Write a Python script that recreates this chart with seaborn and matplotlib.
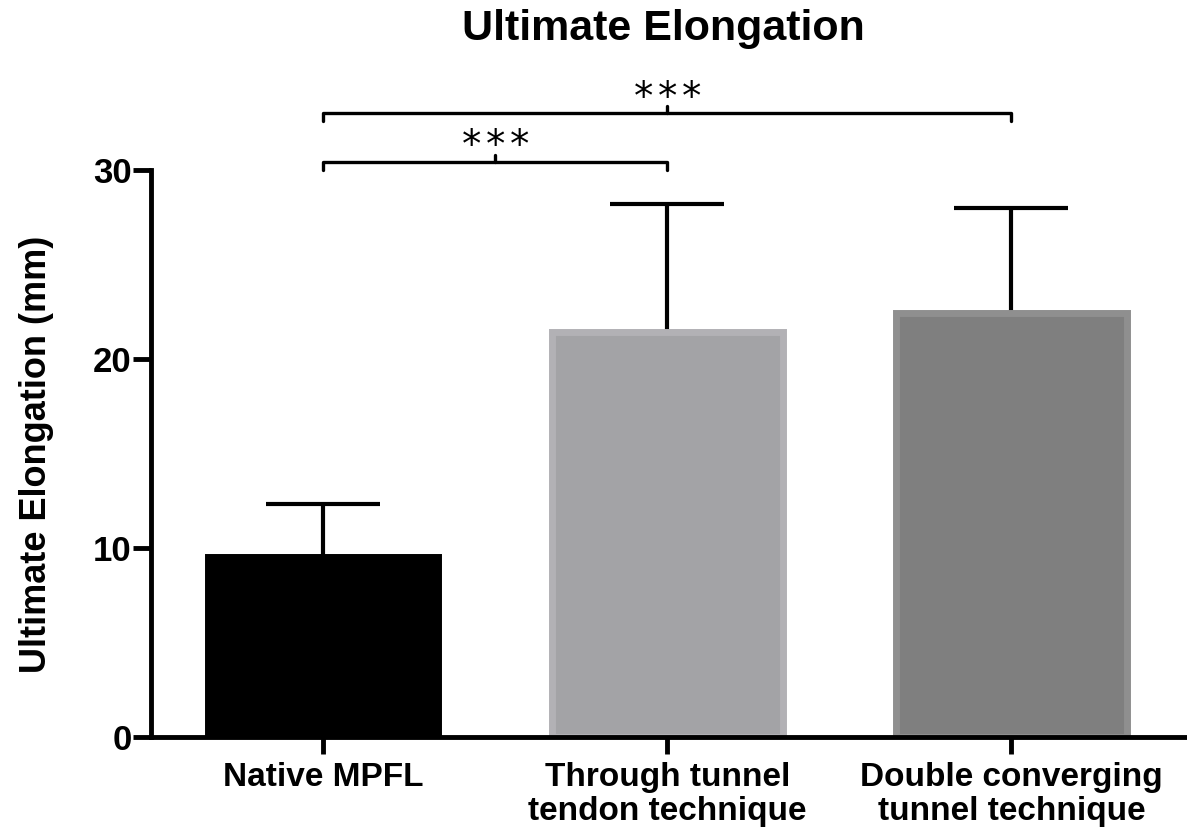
import numpy as np
import pandas as pd
import seaborn as sns
import matplotlib.pyplot as plt

# values
groups = ["Native MPFL", "Through tunnel\ntendon technique", "Double converging\ntunnel technique"]
means = [9.55, 21.45, 22.45]
sds = [2.8, 6.75, 5.55]
fills = ["#000000", "#a3a2a7", "#7f7f7f"]
edges = ["#000000", "#b2b1b5", "#8f8f8f"]
# significance brackets: (from group, to group, number of stars)
sig_pairs = [(0, 1, 3), (0, 2, 3)]
sig_levels = [30.42, 33.0]

df = pd.DataFrame({"group": groups, "mean": means, "sd": sds})

sns.set_theme(style="white")
plt.rcParams["font.family"] = ["Liberation Sans", "DejaVu Sans"]
plt.rcParams["font.weight"] = "bold"
for key in ["text.color", "axes.labelcolor", "xtick.color", "ytick.color"]:
    plt.rcParams[key] = "black"

fig = plt.figure(figsize=(11.87, 8.34), dpi=100)
ax = fig.add_axes([151 / 1187, 1 - 737 / 834, 1 - 151 / 1187, 567 / 834])

sns.barplot(data=df, x="group", y="mean", hue="group", palette=fills,
            width=0.67, linewidth=5, legend=False, ax=ax, zorder=2)
for patch, ec in zip(ax.patches, edges):
    patch.set_edgecolor(ec)

x = np.arange(len(groups))
ax.errorbar(x, df["mean"], yerr=[np.zeros(len(sds)), df["sd"]], fmt="none",
            ecolor="black", elinewidth=3, capsize=41, capthick=3, zorder=1)

# significance brackets
for (a, b, n), lvl in zip(sig_pairs, sig_levels):
    ax.plot([a, a, b, b], [lvl - 0.42, lvl, lvl, lvl - 0.42], color="black",
            lw=2.4, clip_on=False)
    mid = (a + b) / 2
    ax.plot([mid, mid], [lvl, lvl + 0.37], color="black", lw=2.4, clip_on=False)
    for k in range(n):
        ax.text(mid + (k - (n - 1) / 2) * 0.07, lvl + 0.25, "*", ha="center",
                va="baseline", fontsize=28, fontweight="normal",
                family="DejaVu Sans", clip_on=False)

ax.set_xlim(-0.5, 2.51)
ax.set_ylim(0, 30)
ax.set_yticks([0, 10, 20, 30])
ax.set_xlabel("")
ax.set_ylabel("Ultimate Elongation (mm)", fontsize=26, fontweight="bold")
ax.yaxis.set_label_coords((54 - 151) / 1036, (737 - 454) / 567)
fig.text(0.559, 1 - 29 / 834, "Ultimate Elongation", ha="center", va="center",
         fontsize=31, fontweight="bold")

sns.despine(ax=ax)
for s in ["left", "bottom"]:
    ax.spines[s].set_linewidth(3.5)
    ax.spines[s].set_color("black")
ax.tick_params(axis="y", length=13, width=3.5, labelsize=25, left=True, pad=1)
ax.tick_params(axis="x", length=12, width=3.5, labelsize=24, bottom=True, pad=6)
for lab in ax.get_xticklabels() + ax.get_yticklabels():
    lab.set_fontweight("bold")
    lab.set_linespacing(1.12)

fig.savefig("out.png", dpi=100)
